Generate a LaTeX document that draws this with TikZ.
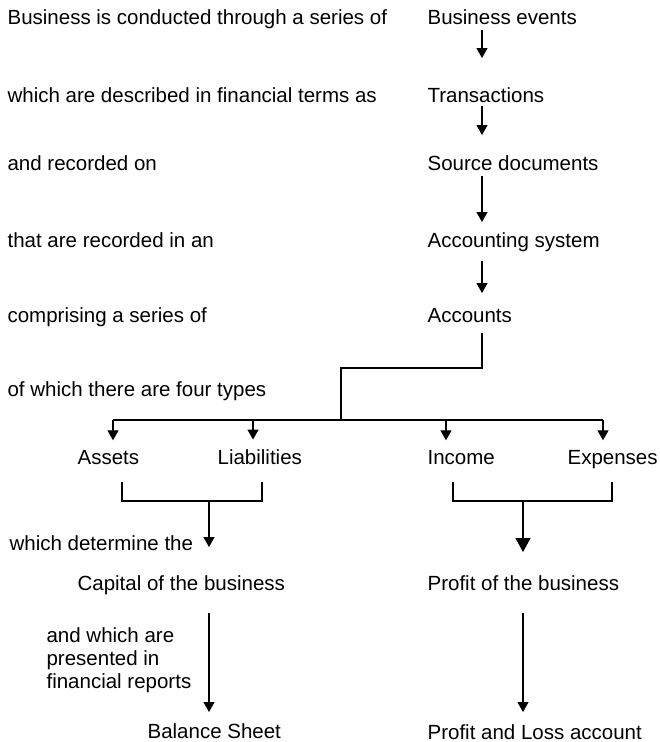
\documentclass[tikz,border=0pt]{standalone}
\usepackage{fontspec}
\setmainfont{Liberation Sans}
\usetikzlibrary{arrows.meta}

\begin{document}
\begin{tikzpicture}[x=1pt,y=-1pt,line width=1.2pt,
    txt/.style={anchor=base west,inner sep=0pt,font=\fontsize{20.5}{23}\selectfont},
    arr/.style={-{Triangle[width=11pt,length=10pt]}},
    bigarr/.style={-{Triangle[width=15pt,length=14pt]}}]

        \useasboundingbox (0,0) rectangle (659,742);

        % Left column, the running sentence
        \node[txt] (s1) at (7,24) {Business is conducted through a series of};
        \node[txt] (s2) at (7,102) {which are described in financial terms as};
        \node[txt] (s3) at (7,170) {and recorded on};
        \node[txt] (s4) at (7,247) {that are recorded in an};
        \node[txt] (s5) at (7,322) {comprising a series of};
        \node[txt] (s6) at (7,396) {of which there are four types};

        % Right column
        \node[txt] (events) at (427,24) {Business events};
        \node[txt] (trans) at (427,102) {Transactions};
        \node[txt] (src) at (427,170) {Source documents};
        \node[txt] (accsys) at (427,247) {Accounting system};
        \node[txt] (accounts) at (427,322) {Accounts};

        % The four types
        \node[txt] (assets) at (77,464) {Assets};
        \node[txt] (liab) at (217,464) {Liabilities};
        \node[txt] (income) at (427,464) {Income};
        \node[txt] (expenses) at (567,464) {Expenses};

        % Results and reports
        \node[txt] (determine) at (9,550) {which determine the};
        \node[txt] (capital) at (77,590) {Capital of the business};
        \node[txt] (profit) at (427,590) {Profit of the business};
        \node[txt,anchor=north west,align=left] (presented) at (46,627) {and which are\\presented in\\financial reports};
        \node[txt] (balance) at (147,738) {Balance Sheet};
        \node[txt] (pnl) at (427,739) {Profit and Loss account};

        % Junction points
        \coordinate (colR) at (482,0);
        \coordinate (split) at (341,368);
        \coordinate (bus) at (341,420);
        \coordinate (alj) at (209,501);
        \coordinate (iej) at (523,501);

        % Arrows down the right column
        \foreach \a/\b/\s/\e in {events/trans/6pt/44pt, trans/src/4pt/35pt, src/accsys/6pt/25pt, accsys/accounts/14pt/29pt}
            \draw[arr,shorten <=\s,shorten >=\e] (\a.base -| colR) -- (\b.base -| colR);

        % Accounts split into four types
        \draw ([yshift=-11pt]accounts.base -| colR) |- (split) -- (bus);
        \draw ([xshift=36pt]bus -| assets.west) -- ([xshift=36pt]bus -| expenses.west);
        \foreach \n/\dx in {assets/36pt,liab/36pt,income/19pt,expenses/36pt}
            \draw[arr] ([xshift=\dx]bus -| \n.west) -- ([xshift=\dx,yshift=9pt]\n.north west);

        % Brackets
        \draw ([xshift=45pt,yshift=-18pt]assets.base west) -- ++(0,19) -| ([xshift=45pt,yshift=-18pt]liab.base west);
        \draw ([xshift=26pt,yshift=-18pt]income.base west) -- ++(0,19) -| ([xshift=45pt,yshift=-18pt]expenses.base west);

        % Capital and profit
        \draw[arr,shorten >=3pt] (alj) -- (alj |- determine.base);
        \draw[bigarr,shorten >=38pt] (iej) -- (iej |- profit.base);

        % Into the financial reports
        \draw[arr,shorten <=23pt,shorten >=26pt] (capital.base -| alj) -- (balance.base -| alj);
        \draw[arr,shorten <=23pt,shorten >=27pt] (profit.base -| iej) -- (pnl.base -| iej);

    \end{tikzpicture}
\end{document}
